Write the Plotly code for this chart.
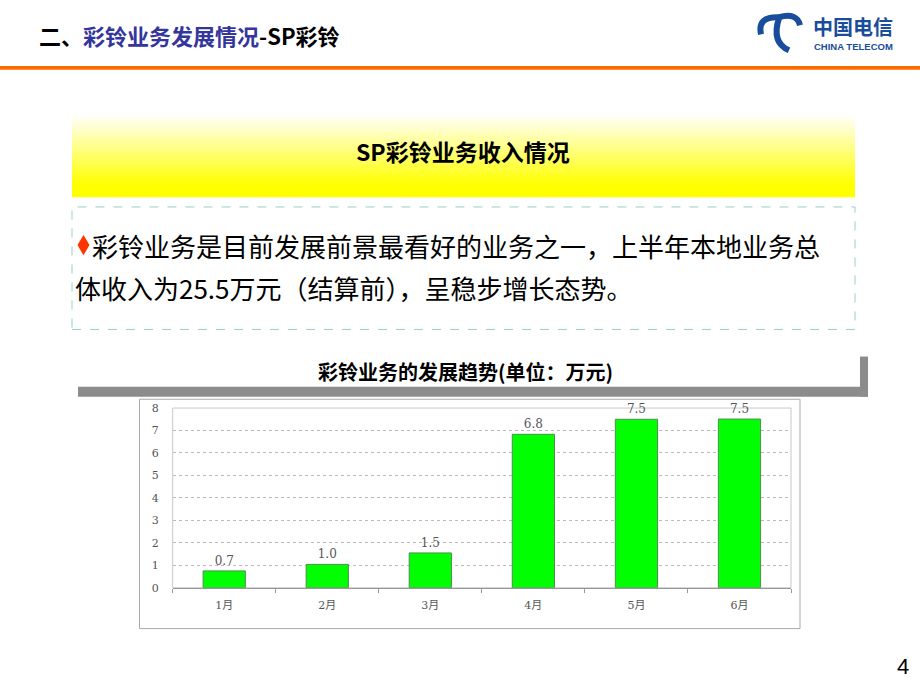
import plotly.graph_objects as go

# ---------------- data ----------------
months = ["1月", "2月", "3月", "4月", "5月", "6月"]
revenue = [0.75, 1.04, 1.55, 6.83, 7.5, 7.51]
value_labels = ["0.7", "1.0", "1.5", "6.8", "7.5", "7.5"]
y_ticks = [0, 1, 2, 3, 4, 5, 6, 7, 8]

W, H = 920, 690
# the viewer shows the page with an 8px top band and a 706->690 vertical fit
VIEW_OFF = 8
VIEW_SCALE = 706 / 690
CJK = "Noto Sans CJK SC"
SERIF = "DejaVu Serif, Noto Sans CJK SC"


def X(px):
    return px / W


def Y(py):
    p = py * VIEW_SCALE - VIEW_OFF
    return 1 - p / H


fig = go.Figure(
    go.Bar(
        x=months,
        y=revenue,
        text=value_labels,
        textposition="outside",
        textfont=dict(family=SERIF, size=12, color="#555555"),
        marker=dict(color="#00ff00", line=dict(color="#4d8f4d", width=1)),
        width=0.41,
        cliponaxis=False,
        hoverinfo="skip",
    )
)

shapes = []
annotations = []

# orange rule under header
shapes.append(dict(type="rect", xref="paper", yref="paper", x0=0, x1=1,
                   y0=Y(71.3), y1=Y(67.7), line=dict(width=0), fillcolor="#ff6a00"))

# yellow gradient box
top, bottom = 110, 198
n = 44
step = (bottom - top) / n
for i in range(n):
    y0 = top + i * step
    yc = y0 + step / 2
    t = min(max((yc - 116) / (186 - 116), 0), 1)
    b = int(round(255 * (1 - t)))
    shapes.append(dict(type="rect", xref="paper", yref="paper",
                       x0=X(72), x1=X(855), y0=Y(y0 + step + 0.3), y1=Y(y0),
                       line=dict(width=0), fillcolor=f"rgb(255,255,{b})", layer="below"))

# dashed text box
shapes.append(dict(type="rect", xref="paper", yref="paper", x0=X(72), x1=X(855),
                   y0=Y(330), y1=Y(208), line=dict(color="#99cccc", width=1, dash="dash"),
                   fillcolor="rgba(0,0,0,0)"))

# red diamond bullet
cx, cy, hw, hh = 83.5, 246, 6, 10
path = (f"M {X(cx)} {Y(cy-hh)} L {X(cx+hw)} {Y(cy)} L {X(cx)} {Y(cy+hh)} "
        f"L {X(cx-hw)} {Y(cy)} Z")
shapes.append(dict(type="path", xref="paper", yref="paper", path=path,
                   fillcolor="#ff3300", line=dict(width=0)))

# grey shadow bar of chart title
shapes.append(dict(type="rect", xref="paper", yref="paper", x0=X(78), x1=X(868),
                   y0=Y(397), y1=Y(387), line=dict(width=0), fillcolor="#8c8c8c"))
shapes.append(dict(type="rect", xref="paper", yref="paper", x0=X(860), x1=X(868),
                   y0=Y(397), y1=Y(357), line=dict(width=0), fillcolor="#8c8c8c"))

# chart outer box
shapes.append(dict(type="rect", xref="paper", yref="paper", x0=X(139.5), x1=X(800),
                   y0=Y(628), y1=Y(399.5), line=dict(color="#a8a8a8", width=1),
                   fillcolor="white", layer="below"))

# plot frame
shapes.append(dict(type="rect", xref="x domain", yref="y domain", x0=0, x1=1, y0=0, y1=1,
                   line=dict(color="#c8c8c8", width=1), layer="below"))

# logo symbol (approximation)
logo_blue = "#1a4c9c"
shapes.append(dict(type="path", xref="paper", yref="paper",
                   path=f"M {X(761)},{Y(36)} Q {X(757)},{Y(18)} {X(779)},{Y(19)} "
                        f"Q {X(797)},{Y(14)} {X(800)},{Y(27)}",
                   line=dict(color=logo_blue, width=6)))
shapes.append(dict(type="path", xref="paper", yref="paper",
                   path=f"M {X(779)},{Y(20)} Q {X(771)},{Y(44)} {X(789)},{Y(52)}",
                   line=dict(color=logo_blue, width=6)))

# ---------------- texts ----------------
annotations.append(dict(
    xref="paper", yref="paper", x=X(37), y=Y(37), xanchor="left", yanchor="middle",
    text="<b>二、<span style='color:#35359e'>彩铃业务发展情况</span>-SP彩铃</b>",
    showarrow=False, font=dict(family=CJK, size=22, color="black")))
annotations.append(dict(
    xref="paper", yref="paper", x=X(853), y=Y(28), xanchor="center", yanchor="middle",
    text="<b>中国电信</b>", showarrow=False,
    font=dict(family=CJK, size=20, color=logo_blue)))
annotations.append(dict(
    xref="paper", yref="paper", x=X(853), y=Y(48.5), xanchor="center", yanchor="middle",
    text="<b>CHINA TELECOM</b>", showarrow=False,
    font=dict(family="Liberation Sans", size=9.5, color=logo_blue)))
annotations.append(dict(
    xref="paper", yref="paper", x=X(463), y=Y(152), xanchor="center", yanchor="middle",
    text="<b>SP彩铃业务收入情况</b>", showarrow=False,
    font=dict(family=CJK, size=23, color="black")))
annotations.append(dict(
    xref="paper", yref="paper", x=X(90), y=Y(246), xanchor="left", yanchor="middle",
    text="彩铃业务是目前发展前景最看好的业务之一，上半年本地业务总", showarrow=False,
    font=dict(family=CJK, size=26, color="black")))
annotations.append(dict(
    xref="paper", yref="paper", x=X(73), y=Y(288), xanchor="left", yanchor="middle",
    text="体收入为25.5万元（结算前），呈稳步增长态势。", showarrow=False,
    font=dict(family=CJK, size=26, color="black")))
annotations.append(dict(
    xref="paper", yref="paper", x=X(466), y=Y(372), xanchor="center", yanchor="middle",
    text="<b>彩铃业务的发展趋势(单位：万元)</b>", showarrow=False,
    font=dict(family=CJK, size=20, color="black")))
annotations.append(dict(
    xref="paper", yref="paper", x=X(903), y=Y(666), xanchor="center", yanchor="middle",
    text="4", showarrow=False,
    font=dict(family="Liberation Sans", size=22, color="black")))

fig.update_layout(
    width=W, height=H,
    margin=dict(l=0, r=0, t=0, b=0),
    paper_bgcolor="white",
    plot_bgcolor="rgba(0,0,0,0)",
    showlegend=False,
    shapes=shapes,
    annotations=annotations,
    xaxis=dict(
        domain=[X(172.7), X(791)],
        type="category",
        showline=True, linecolor="#999999", linewidth=1,
        ticks="outside", tickson="boundaries", ticklen=4, tickcolor="#999999",
        tickfont=dict(family=SERIF, size=11, color="#555555"),
        ticklabelstandoff=7,
        showgrid=False, fixedrange=True,
    ),
    yaxis=dict(
        domain=[Y(587.3), Y(408.3)],
        range=[0, 8],
        tickvals=y_ticks,
        showgrid=True, gridcolor="#c4b4c4", griddash="dot", gridwidth=1,
        zeroline=False, showline=False,
        tickfont=dict(family=SERIF, size=11, color="#555555"),
        ticklabelstandoff=13,
        fixedrange=True,
    ),
)

fig.write_html("out.html")
